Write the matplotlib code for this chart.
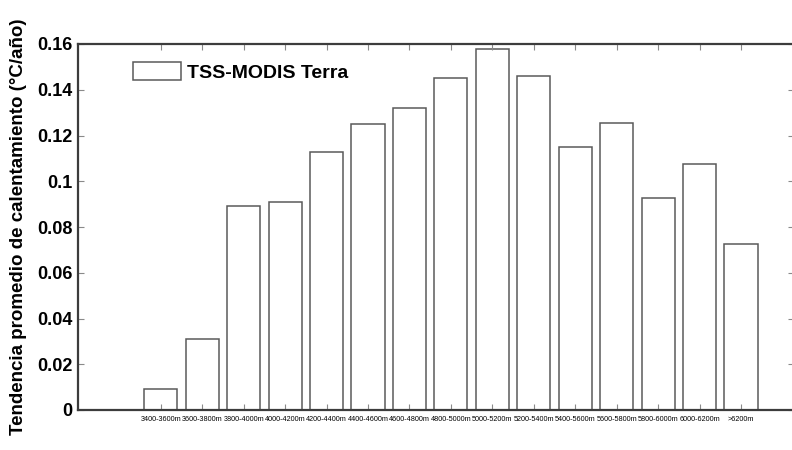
import matplotlib.pyplot as plt

# Tendencia de calentamiento por rango de altitud
rangos = ["3400-3600m", "3600-3800m", "3800-4000m", "4000-4200m", "4200-4400m",
          "4400-4600m", "4600-4800m", "4800-5000m", "5000-5200m", "5200-5400m",
          "5400-5600m", "5600-5800m", "5800-6000m", "6000-6200m", ">6200m"]
tendencia = [0.009, 0.031, 0.089, 0.091, 0.113, 0.125, 0.132, 0.145,
             0.158, 0.146, 0.115, 0.1255, 0.0925, 0.1075, 0.0725]
yticks = [0, 0.02, 0.04, 0.06, 0.08, 0.1, 0.12, 0.14, 0.16]
ytick_labels = ["0", "0.02", "0.04", "0.06", "0.08", "0.1", "0.12", "0.14", "0.16"]

plt.rcParams['font.family'] = ['Liberation Sans', 'DejaVu Sans']

fig = plt.figure(figsize=(7.92, 4.5), dpi=100)
ax = fig.add_axes([78 / 792, 40 / 450, 716 / 792, 366 / 450])

x = list(range(len(rangos)))
ax.bar(x, tendencia, width=0.8, color='white', edgecolor='#5a5a5a',
       linewidth=1.1, label='TSS-MODIS Terra')

ax.set_xlim(-2.0, 15.28)
ax.set_ylim(0, 0.16)
ax.set_yticks(yticks)
ax.set_yticklabels(ytick_labels, fontsize=13, fontweight='bold')
ax.set_xticks(x)
ax.set_xticklabels(rangos, fontsize=5.2)

ax.tick_params(axis='both', direction='in', length=4, color='#8a8a8a',
               top=True, right=True, width=0.8)
ax.tick_params(axis='y', pad=4)
ax.tick_params(axis='x', pad=4)
for s in ax.spines.values():
    s.set_color('#3c3c3c')
    s.set_linewidth(1.6)

ax.set_ylabel('Tendencia promedio de calentamiento (°C/año)',
              fontsize=13.5, fontweight='bold', labelpad=7)

ax.legend(loc='upper left', bbox_to_anchor=(0.077, 0.952), frameon=False,
          borderpad=0, borderaxespad=0, handlelength=2.45, handleheight=1.1,
          handletextpad=0.3, prop={'weight': 'bold', 'size': 14})

fig.savefig('out.png', dpi=100)
